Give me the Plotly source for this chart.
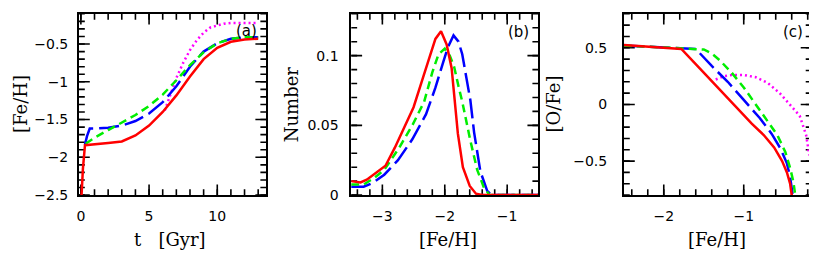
import numpy as np
import plotly.graph_objects as go

# ---------------- data ----------------
# Panel (a): [Fe/H] vs t [Gyr]
a_red_t = [0.05, 0.15, 0.3, 1, 2, 3, 4, 5, 6, 7, 8, 9, 10, 11, 12, 13]
a_red_fe = [-2.5, -2.15, -1.84, -1.83, -1.81, -1.79, -1.71, -1.58, -1.40, -1.18, -0.93, -0.70, -0.55, -0.47, -0.44, -0.43]
a_blue_t = [0.3, 0.45, 0.65, 1, 2, 3, 4, 5, 6, 7, 8, 9, 10, 11, 12, 13]
a_blue_fe = [-1.83, -1.72, -1.62, -1.62, -1.61, -1.58, -1.52, -1.42, -1.27, -1.06, -0.80, -0.60, -0.49, -0.43, -0.41, -0.41]
a_green_t = [0.35, 1, 2, 3, 4, 5, 6, 7, 8, 9, 10, 11, 12, 13]
a_green_fe = [-1.82, -1.74, -1.64, -1.54, -1.44, -1.32, -1.17, -0.98, -0.78, -0.61, -0.49, -0.43, -0.41, -0.41]
a_mag_t = [6.15, 6.5, 7, 7.5, 8, 8.5, 9, 9.5, 10, 10.5, 11, 12, 13]
a_mag_fe = [-1.38, -1.2, -0.95, -0.75, -0.58, -0.45, -0.35, -0.28, -0.25, -0.23, -0.22, -0.22, -0.22]

# Panel (b): Number vs [Fe/H]
b_red_x = [-3.5, -3.35, -3.25, -3.1, -2.95, -2.8, -2.65, -2.5, -2.35, -2.2, -2.15, -2.06, -1.97, -1.89, -1.84, -1.79, -1.71, -1.6, -1.5, -1.4, -1.2, -1.0, -0.8, -0.5]
b_red_y = [0.010, 0.009, 0.011, 0.016, 0.021, 0.034, 0.048, 0.063, 0.084, 0.105, 0.112, 0.1175, 0.108, 0.091, 0.065, 0.044, 0.020, 0.0065, 0.001, 0, 0, 0, 0, 0]
b_blue_x = [-3.5, -3.35, -3.3, -3.15, -2.97, -2.75, -2.52, -2.3, -2.15, -2.02, -1.95, -1.86, -1.78, -1.72, -1.66, -1.59, -1.53, -1.43, -1.32, -1.25, -1.0, -0.5]
b_blue_y = [0.006, 0.0058, 0.006, 0.0088, 0.0146, 0.025, 0.040, 0.058, 0.077, 0.096, 0.106, 0.1145, 0.110, 0.101, 0.087, 0.068, 0.045, 0.017, 0.003, 0, 0, 0]
b_green_x = [-3.5, -3.3, -3.13, -2.97, -2.73, -2.52, -2.33, -2.2, -2.1, -2.0, -1.92, -1.85, -1.78, -1.72, -1.59, -1.48, -1.37, -1.28, -1.0, -0.5]
b_green_y = [0.0076, 0.0076, 0.0123, 0.018, 0.034, 0.050, 0.067, 0.088, 0.101, 0.105, 0.100, 0.092, 0.078, 0.067, 0.039, 0.018, 0.005, 0, 0, 0]
b_mag_x = [-1.4, -1.0, -0.5]
b_mag_y = [0, 0, 0]

# Panel (c): [O/Fe] vs [Fe/H]
c_red_x = [-2.5, -1.78, -1.5, -1.3, -1.1, -0.9, -0.75, -0.62, -0.52, -0.46, -0.42, -0.40]
c_red_y = [0.525, 0.49, 0.28, 0.13, -0.02, -0.17, -0.27, -0.38, -0.50, -0.60, -0.70, -0.80]
c_blue_x = [-2.5, -1.6, -1.4, -1.2, -1.0, -0.8, -0.65, -0.54, -0.46, -0.42, -0.39]
c_blue_y = [0.52, 0.49, 0.34, 0.20, 0.04, -0.12, -0.26, -0.39, -0.52, -0.64, -0.79]
c_green_x = [-2.5, -1.6, -1.5, -1.4, -1.3, -1.15, -1.0, -0.85, -0.7, -0.58, -0.48, -0.42, -0.38, -0.36]
c_green_y = [0.52, 0.49, 0.485, 0.45, 0.39, 0.28, 0.15, 0.0, -0.15, -0.27, -0.42, -0.56, -0.68, -0.78]
c_mag_x = [-1.35, -1.25, -1.15, -1.0, -0.85, -0.7, -0.55, -0.42, -0.3, -0.22, -0.18]
c_mag_y = [0.22, 0.25, 0.26, 0.26, 0.24, 0.19, 0.10, 0.0, -0.10, -0.27, -0.45]

# axis ranges and tick labels
a_xrange, a_yrange = [-0.15, 13.6], [-2.5, -0.1]
b_xrange, b_yrange = [-3.5, -0.5], [0, 0.13]
c_xrange, c_yrange = [-2.5, -0.15], [-0.8, 0.8]
a_xticks, a_yticks = [0, 5, 10], [-2.5, -2, -1.5, -1, -0.5]
b_xticks, b_yticks = [-3, -2, -1], [0, 0.05, 0.1]
c_xticks, c_yticks = [-2, -1], [-0.5, 0, 0.5]

RED, BLUE, GREEN, MAG = "#ff0000", "#0000ff", "#00ee00", "#ff00ff"

# the page body has an 8px margin: the figure starts at window (8, 8);
# keep the page no taller than the window
OFF = 8
W, H = 817 - OFF, 276 - 2 * OFF
PW, PH = 188.0, 187.0   # plot-area size in pixels

fig = go.Figure()

# ---- inside tick marks on all four sides (drawn on the axes' own scales) ----
def ticks_between(rng, step, start):
    vals = np.arange(start, rng[1] + 1e-9, step)
    return [round(float(v), 6) for v in vals if rng[0] - 1e-9 <= v <= rng[1] + 1e-9]

def tick_trace(xa, ya, xr, yr, xmaj, xstep, xstart, ymaj, ystep, ystart):
    xs, ys = [], []
    dy = (yr[1] - yr[0]) / PH
    dx = (xr[1] - xr[0]) / PW
    for vals, L in [(xmaj, 11), (ticks_between(xr, xstep, xstart), 6)]:
        for v in vals:
            xs += [v, v, None, v, v, None]
            ys += [yr[0], yr[0] + L * dy, None, yr[1], yr[1] - L * dy, None]
    for vals, L in [(ymaj, 11), (ticks_between(yr, ystep, ystart), 6)]:
        for v in vals:
            xs += [xr[0], xr[0] + L * dx, None, xr[1], xr[1] - L * dx, None]
            ys += [v, v, None, v, v, None]
    fig.add_trace(go.Scatter(x=xs, y=ys, mode="lines", xaxis=xa, yaxis=ya,
                             line=dict(color="black", width=1.6), connectgaps=False,
                             showlegend=False, hoverinfo="skip"))

tick_trace("x", "y", a_xrange, a_yrange, a_xticks, 1, 0, a_yticks, 0.1, -2.5)
tick_trace("x2", "y2", b_xrange, b_yrange, b_xticks, 0.2, -3.4, b_yticks, 0.01, 0)
tick_trace("x3", "y3", c_xrange, c_yrange, c_xticks, 0.2, -2.4, c_yticks, 0.1, -0.8)

def add(x, y, color, dash, xa, ya, width=2.5):
    fig.add_trace(go.Scatter(x=x, y=y, mode="lines", xaxis=xa, yaxis=ya,
                             line=dict(color=color, width=width, dash=dash),
                             showlegend=False, hoverinfo="skip"))

for xa, ya, sets in [
    ("x", "y", [(a_mag_t, a_mag_fe), (a_blue_t, a_blue_fe), (a_green_t, a_green_fe), (a_red_t, a_red_fe)]),
    ("x2", "y2", [(b_mag_x, b_mag_y), (b_blue_x, b_blue_y), (b_green_x, b_green_y), (b_red_x, b_red_y)]),
    ("x3", "y3", [(c_mag_x, c_mag_y), (c_blue_x, c_blue_y), (c_green_x, c_green_y), (c_red_x, c_red_y)]),
]:
    add(*sets[0], MAG, "2px,3px", xa, ya)
    add(*sets[1], BLUE, "20px,6px", xa, ya)
    add(*sets[2], GREEN, "8px,5px", xa, ya)
    add(*sets[3], RED, "solid", xa, ya)

def px_dom(l, r):
    return [max(0.0, (l - OFF) / W), min(1.0, (r - OFF) / W)]

def py(y):
    return 1 - (y - OFF) / H

ydom = [py(201), py(14)]
tickfont = dict(family="DejaVu Sans", size=14, color="black")

def axis(domain, rng, tickvals, anchor, standoff):
    return dict(domain=domain, range=rng, tickmode="array", tickvals=tickvals, anchor=anchor,
                showline=True, linecolor="black", linewidth=1.5, mirror=True, ticks="",
                ticklabelstandoff=standoff,
                showgrid=False, zeroline=False, tickfont=tickfont, fixedrange=True)

fig.update_layout(
    width=W, height=H, margin=dict(l=0, r=0, t=0, b=0),
    plot_bgcolor="white", paper_bgcolor="white",
    xaxis=axis(px_dom(77, 265), a_xrange, a_xticks, "y", 7),
    yaxis=axis(ydom, a_yrange, a_yticks, "x", 6),
    xaxis2=axis(px_dom(350, 537.7), b_xrange, b_xticks, "y2", 7),
    yaxis2=axis(ydom, b_yrange, b_yticks, "x2", 8),
    xaxis3=axis(px_dom(623.3, 811.7), c_xrange, c_xticks, "y3", 7),
    yaxis3=axis(ydom, c_yrange, c_yticks, "x3", 12),
)

titlefont = dict(family="DejaVu Serif", size=18, color="black")
NB = "\u00a0"
anns = [
    ("t" + NB * 3 + "[Gyr]", 168, 247, 0), ("[Fe/H]", 19, 107, -90),
    ("[Fe/H]", 447, 247, 0), ("Number", 291, 107, -90),
    ("[Fe/H]", 717, 247, 0), ("[O/Fe]", 553, 107, -90),
]
for text, x, y, ang in anns:
    fig.add_annotation(text=text, x=(x - OFF) / W, y=py(y), xref="paper", yref="paper",
                       showarrow=False, textangle=ang, font=titlefont,
                       xanchor="center", yanchor="middle")
for text, x, y in [("(a)", 245, 32), ("(b)", 518, 33), ("(c)", 793, 33)]:
    fig.add_annotation(text=text, x=(x - OFF) / W, y=py(y), xref="paper", yref="paper",
                       showarrow=False, font=dict(family="DejaVu Sans", size=15, color="black"),
                       xanchor="center", yanchor="middle")

fig.write_html("out.html")
